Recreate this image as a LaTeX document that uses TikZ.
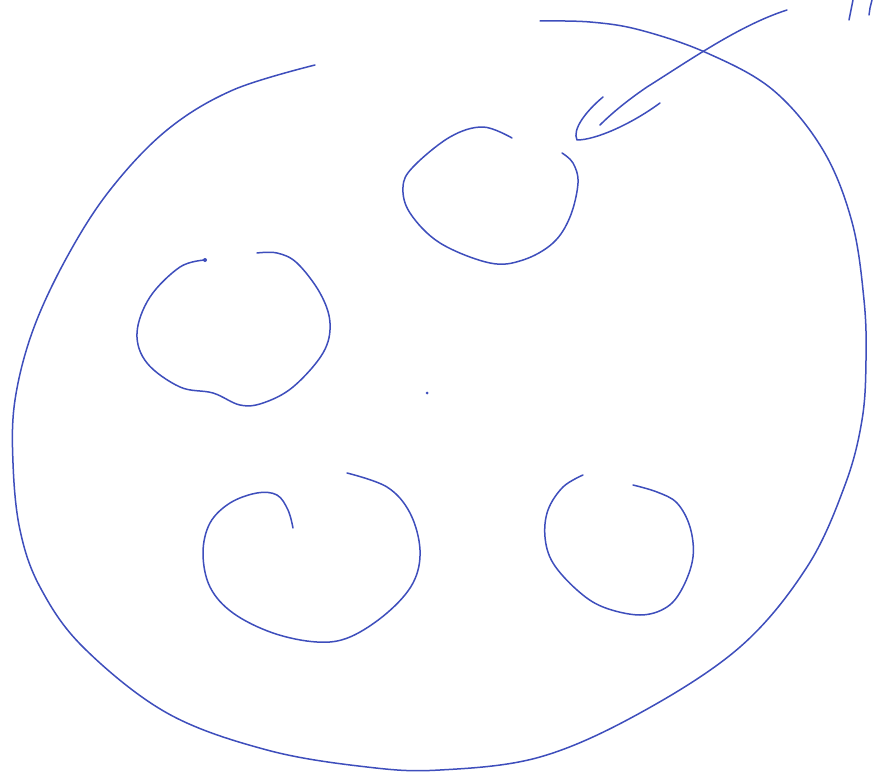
\documentclass[tikz,border=0pt]{standalone}
\begin{document}
\begin{tikzpicture}[x=1pt,y=-1pt,
  pen/.style={draw=inkblue,line width=1.5pt,line cap=round,line join=round}]
\definecolor{inkblue}{RGB}{62,78,188}
\useasboundingbox[fill=white] (0,0) rectangle (876,776);
% outer boundary
\draw[pen] plot[smooth,tension=0.6] coordinates {
 (315,65) (233,90) (167,130) (110,190) (67,257) (33,330) (15,400)
 (13,463) (20,530) (40,587) (83,647) (167,713) (267,750) (367,767) (440,770)
 (540,757) (640,713) (740,647) (807,567) (845,485) (862,420) (866,360)
 (864,300) (852,222) (823,150) (773,90) (707,53) (640,30) (590,22) (540,21)};
% top-centre loop
\draw[pen] plot[smooth,tension=0.6] coordinates {
 (512,138) (483,127) (450,137) (413,167) (403,187) (410,213) (440,243)
 (490,263) (523,260) (553,243) (570,217) (578,183) (573,163) (562,153)};
% left loop
\draw[pen] plot[smooth,tension=0.6] coordinates {
 (205,260) (180,267) (150,297) (137,333) (147,363) (180,387) (213,393)
 (240,405) (263,403) (293,387) (323,353) (330,323) (320,293) (297,263)
 (277,253) (257,253)};
\fill[inkblue] (205,260) circle (2pt);
% bottom-left loop
\draw[pen] plot[smooth,tension=0.6] coordinates {
 (293,528) (288,510) (277,495) (257,493) (230,503) (210,523) (203,553)
 (210,587) (233,613) (273,633) (317,642) (350,637) (387,613) (413,583)
 (420,550) (410,513) (387,487) (347,473)};
% bottom-right loop
\draw[pen] plot[smooth,tension=0.6] coordinates {
 (583,475) (563,487) (548,510) (545,537) (553,563) (577,590) (603,607)
 (640,615) (667,607) (683,587) (693,557) (690,527) (677,503) (657,492)
 (633,485)};
% stray dot
\fill[inkblue] (427,393) circle (1.5pt);
% pointer arrow
\coordinate (tail) at (787,10);
\coordinate (tip) at (600,125);
\draw[pen] (tail) .. controls (740,25) and (690,60) .. (647,87) .. controls (625,102) and (610,115) .. (tip);
\draw[pen] (603,97) .. controls (585,112) and (572,130) .. (577,140)
  .. controls (595,140) and (630,125) .. (660,103);
% cut-off handwriting at top right
\draw[pen] (853,0) -- (851,10) -- (849,20);
\draw[pen] (872,0) -- (870,8) -- (869,15);
\end{tikzpicture}
\end{document}
